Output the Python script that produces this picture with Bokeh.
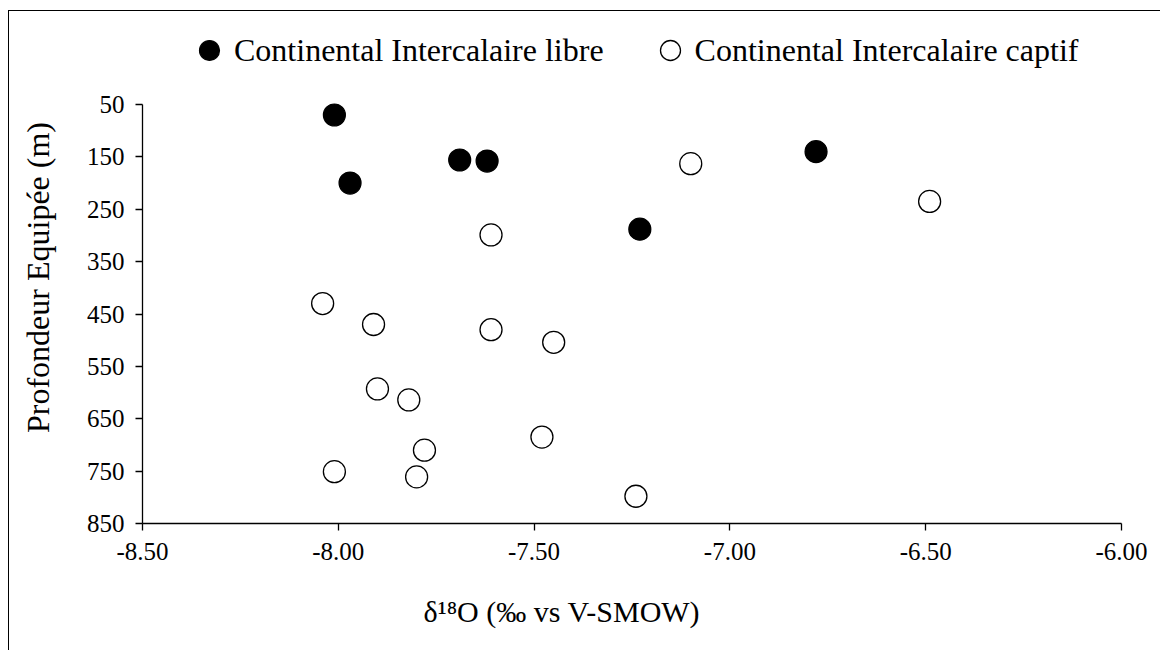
from bokeh.plotting import figure
from bokeh.models import Range1d, FixedTicker, NumeralTickFormatter, Legend, LegendItem, ColumnDataSource, Title
from bokeh.embed import file_html
from bokeh.resources import INLINE

# Continental Intercalaire libre (filled)
libre_d18o = [-8.01, -7.97, -7.69, -7.62, -6.78, -7.23]
libre_depth = [70, 200, 156, 158, 140, 288]

# Continental Intercalaire captif (open)
captif_d18o = [-7.10, -6.49, -7.61, -8.04, -7.91, -7.61, -7.45, -7.90, -7.82, -7.48, -7.78, -8.01, -7.80, -7.24]
captif_depth = [163, 235, 299, 430, 470, 480, 504, 593, 614, 685, 710, 751, 761, 798]

x_ticks = [-8.5, -8.0, -7.5, -7.0, -6.5, -6.0]
y_ticks = [50, 150, 250, 350, 450, 550, 650, 750, 850]

FONT = "Liberation Serif"

# layout: plot area reaches up into the legend band; depth axis drawn only 50..850
FRAME_H = 492
AXIS_PX = 419            # pixels spanned by 50..850
y_top = 50 - (FRAME_H - AXIS_PX) * (800 / AXIS_PX)

p = figure(frame_width=979, frame_height=FRAME_H,
           min_border_left=133, min_border_right=39,
           min_border_top=20, min_border_bottom=10,
           x_range=Range1d(-8.5, -6.0), y_range=Range1d(850, y_top),
           output_backend="svg", toolbar_location=None)
p.styles = {"border-left": "1px solid black", "border-top": "1px solid black",
            "margin-left": "8px", "margin-top": "10px"}

p.xgrid.visible = False
p.ygrid.visible = False
p.outline_line_color = None
p.background_fill_color = "white"
p.border_fill_color = "white"

src1 = ColumnDataSource(dict(x=libre_d18o, y=libre_depth))
src2 = ColumnDataSource(dict(x=captif_d18o, y=captif_depth))
r1 = p.scatter("x", "y", source=src1, size=22, fill_color="black", line_color="black", line_width=1.2)
r2 = p.scatter("x", "y", source=src2, size=22, fill_color="white", line_color="black", line_width=1.3)

for ax in (p.xaxis, p.yaxis):
    ax.axis_line_color = "black"
    ax.axis_line_width = 1.3
    ax.major_tick_line_color = "black"
    ax.major_tick_line_width = 1.3
    ax.major_tick_in = 0
    ax.major_tick_out = 7
    ax.minor_tick_line_color = None
    ax.major_label_text_font = FONT
    ax.major_label_text_font_size = "25px"
    ax.major_label_text_color = "black"
    ax.axis_label_text_font = FONT
    ax.axis_label_text_font_style = "normal"
    ax.axis_label_text_color = "black"

p.xaxis.ticker = FixedTicker(ticks=x_ticks)
p.xaxis.formatter = NumeralTickFormatter(format="0.00")
p.xaxis.major_label_standoff = 12

p.yaxis.ticker = FixedTicker(ticks=y_ticks)
p.yaxis.bounds = (50, 850)
p.yaxis.major_label_standoff = 11
p.yaxis.axis_label = "Profondeur Equipée (m)"
p.yaxis.axis_label_text_font_size = "32px"
p.yaxis.axis_label_standoff = 28

xtitle = Title(text="δ¹⁸O (‰ vs V-SMOW)", align="left", offset=281, standoff=60,
               text_font=FONT, text_font_size="30px", text_font_style="normal",
               text_color="black")
p.add_layout(xtitle, "below")

legend = Legend(items=[LegendItem(label="Continental Intercalaire libre", renderers=[r1]),
                       LegendItem(label="Continental Intercalaire captif", renderers=[r2])],
                orientation="horizontal", location=(42, 448),
                glyph_width=50, glyph_height=50, label_standoff=0, spacing=41,
                padding=0, margin=0, border_line_color=None, background_fill_alpha=0,
                label_text_font=FONT, label_text_font_size="32px", label_text_color="black")
p.add_layout(legend)

open("out.html", "w").write(file_html(p, INLINE))
